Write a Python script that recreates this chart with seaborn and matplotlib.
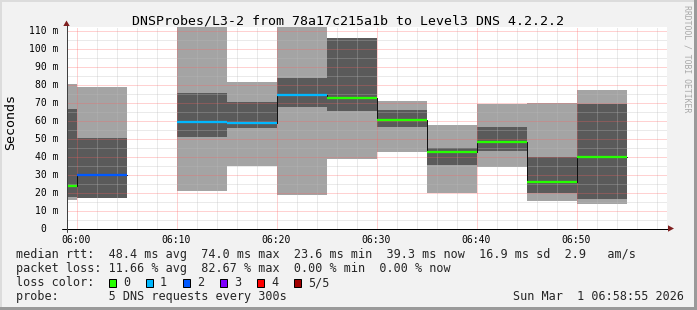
import matplotlib
matplotlib.use("Agg")
import matplotlib.pyplot as plt
import seaborn as sns
import pandas as pd
from matplotlib.lines import Line2D
from matplotlib.patches import Rectangle, Polygon
from matplotlib.ticker import FixedLocator

# ---------------- data (minutes after 06:00, milliseconds) ----------------
slot_start = [-5, 0, 10, 15, 20, 25, 30, 35, 40, 45, 50]
ping_min   = [15.6, 17.0, 20.7, 35.0, 18.4, 38.5, 42.5, 19.7, 34.2, 15.1, 13.4]
ping_max   = [80.0, 78.4, 118.0, 81.6, 118.0, 105.6, 70.9, 57.5, 69.3, 70.0, 77.1]
inner_lo   = [17.5, 17.0, 51.0, 55.7, 67.6, 65.4, 56.6, 35.2, 43.2, 19.7, 16.2]
inner_hi   = [66.5, 50.1, 75.4, 70.4, 83.8, 105.6, 66.0, 44.5, 56.6, 39.8, 69.3]
median_rtt = [23.6, 30.0, 59.0, 58.5, 74.0, 72.6, 60.3, 42.5, 48.0, 25.6, 39.5]
lost_pings = [0, 2, 1, 1, 1, 0, 0, 0, 0, 0, 0]
slot_len = 5

x_tick_minutes = [0, 10, 20, 30, 40, 50]
x_tick_labels = ["06:00", "06:10", "06:20", "06:30", "06:40", "06:50"]
x_minor_minutes = [m for m in range(2, 59, 2) if m % 10 != 0]
y_ticks = [0, 10, 20, 30, 40, 50, 60, 70, 80, 90, 100, 110]
y_tick_labels = ["0  ", "10 m", "20 m", "30 m", "40 m", "50 m", "60 m",
                 "70 m", "80 m", "90 m", "100 m", "110 m"]
y_minor = [5, 15, 25, 35, 45, 55, 65, 75, 85, 95, 105]

loss_labels = ["0", "1", "2", "3", "4", "5/5"]
loss_colors = ["#26ff00", "#00b8ff", "#0059ff", "#7e00ff", "#ff0000", "#a10000"]

title = "DNSProbes/L3-2 from 78a17c215a1b to Level3 DNS 4.2.2.2"
line_rtt = "median rtt:  48.4 ms avg  74.0 ms max  23.6 ms min  39.3 ms now  16.9 ms sd  2.9   am/s"
line_loss = "packet loss: 11.66 % avg  82.67 % max  0.00 % min  0.00 % now"
line_color = "loss color:"
line_probe = "probe:       5 DNS requests every 300s"
stamp = "Sun Mar  1 06:58:55 2026"
watermark = "RRDTOOL / TOBI OETIKER"
ylabel = "Seconds"

LIGHT = "#a4a4a4"
DARK = "#5a5a5a"

# ---------------- figure ----------------
sns.set_style("white")
plt.rcParams["font.family"] = ["DejaVu Sans Mono", "DejaVu Sans"]

W, H = 697, 310
PX = 0.72  # points per pixel at dpi 100


def fx(x):
    return x / W


def fy(y):
    return 1 - y / H


fig = plt.figure(figsize=(W / 100, H / 100), dpi=100, facecolor="#F2F2F2")

# 3D frame
fig.add_artist(Rectangle((0, 1 - 2 / H), 1, 2 / H, transform=fig.transFigure,
                         facecolor="#DCDCDC", edgecolor="none", zorder=0))
fig.add_artist(Rectangle((0, 0), 2 / W, 1, transform=fig.transFigure,
                         facecolor="#DCDCDC", edgecolor="none", zorder=0))
fig.add_artist(Rectangle((0, 0), 1, 3 / H, transform=fig.transFigure,
                         facecolor="#9A9A9A", edgecolor="none", zorder=0))
fig.add_artist(Rectangle((1 - 3 / W, 0), 3 / W, 1, transform=fig.transFigure,
                         facecolor="#9A9A9A", edgecolor="none", zorder=0))

left_px, right_px = 66.5, 666.5
bottom_px = 228.5
top_px = bottom_px - 112 * 1.8
ax = fig.add_axes([fx(left_px), fy(bottom_px), (right_px - left_px) / W,
                   (bottom_px - top_px) / H])
ax.set_facecolor("white")
ax.set_xlim(-1, 59)
ax.set_ylim(0, 112)

# smoke: outer (min..max) and inner bands
ax.bar(slot_start, [b - a for a, b in zip(ping_min, ping_max)], bottom=ping_min,
       width=slot_len, align="edge", color=LIGHT, linewidth=0, zorder=1)
ax.bar(slot_start, [b - a for a, b in zip(inner_lo, inner_hi)], bottom=inner_lo,
       width=slot_len, align="edge", color=DARK, linewidth=0, zorder=1.1)

# median step connectors (black), split at data gaps
rows = []
seg = 0
prev_end = None
for s, m in zip(slot_start, median_rtt):
    if prev_end is not None and s != prev_end:
        seg += 1
    rows.append({"t": s, "ms": m, "seg": seg})
    rows.append({"t": s + slot_len, "ms": m, "seg": seg})
    prev_end = s + slot_len
med_df = pd.DataFrame(rows)
sns.lineplot(data=med_df, x="t", y="ms", units="seg", estimator=None, sort=False,
             color="#111111", linewidth=1 * PX, ax=ax, legend=False, zorder=5)

# colored median by loss
ax.hlines(median_rtt, slot_start, [s + slot_len for s in slot_start],
          colors=[loss_colors[l] for l in lost_pings], linewidth=2.3 * PX, zorder=6)

# grid
ax.xaxis.set_major_locator(FixedLocator(x_tick_minutes))
ax.xaxis.set_minor_locator(FixedLocator(x_minor_minutes))
ax.yaxis.set_major_locator(FixedLocator(y_ticks))
ax.yaxis.set_minor_locator(FixedLocator(y_minor))
ax.set_xticklabels(x_tick_labels)
ax.set_yticklabels(y_tick_labels)
ax.set_axisbelow(False)
ax.grid(which="major", color="#FF5F5F", alpha=0.56, linestyle=(0, (1, 1)),
        linewidth=1 * PX, zorder=3)
ax.grid(which="minor", color="#BBBBBB", alpha=0.6, linestyle=(0, (1, 1)),
        linewidth=1 * PX, zorder=3)

ax.tick_params(axis="x", which="major", length=3 * PX, width=1 * PX,
               color="#FF5F5F", labelsize=7.06, pad=2.2, labelcolor="#000000")
ax.tick_params(axis="x", which="minor", length=2 * PX, width=1 * PX, color="#BBBBBB")
ax.tick_params(axis="y", which="major", length=3 * PX, width=1 * PX,
               color="#404040", labelsize=7.06, pad=3.4, labelcolor="#000000")
ax.tick_params(axis="y", which="minor", length=2 * PX, width=1 * PX, color="#BBBBBB")
ax.set_xlabel("")
ax.set_ylabel("")
for sp in ax.spines.values():
    sp.set_visible(False)

# axis lines with arrows
fig.add_artist(Line2D([fx(62.3), fx(668)], [fy(228.5), fy(228.5)],
                      transform=fig.transFigure, color="black", linewidth=1 * PX, zorder=7))
fig.add_artist(Line2D([fx(66.5), fx(66.5)], [fy(231.5), fy(25)],
                      transform=fig.transFigure, color="#404040", linewidth=1 * PX, zorder=7))
ARROW = "#7F1F1F"
fig.add_artist(Polygon([(fx(668), fy(225.3)), (fx(668), fy(231.7)), (fx(674), fy(228.5))],
                       closed=True, transform=fig.transFigure, facecolor=ARROW,
                       edgecolor="none", zorder=8))
fig.add_artist(Polygon([(fx(63.3), fy(26)), (fx(69.7), fy(26)), (fx(66.5), fy(20.5))],
                       closed=True, transform=fig.transFigure, facecolor=ARROW,
                       edgecolor="none", zorder=8))

# texts
MONO = ["DejaVu Sans Mono"]
fig.text(fx(348.5), fy(24.3), title, ha="center", va="baseline", fontsize=9.57,
         family=MONO, color="black")
fig.text(fx(10.5), fy(122), ylabel, ha="center", va="center", rotation=90,
         fontsize=9.6, family=MONO, color="black")
fig.text(fx(687), fy(59), watermark, ha="center", va="center", rotation=270,
         fontsize=5.9, family=MONO, color="#A8A8A8")

fs = 8.5
fig.text(fx(16), fy(258.3), line_rtt, ha="left", va="baseline", fontsize=fs, family=MONO)
fig.text(fx(16), fy(272.3), line_loss, ha="left", va="baseline", fontsize=fs, family=MONO)
fig.text(fx(16), fy(286.3), line_color, ha="left", va="baseline", fontsize=fs, family=MONO)
fig.text(fx(16), fy(300.2), line_probe, ha="left", va="baseline", fontsize=fs, family=MONO)
fig.text(fx(513.3), fy(300.2), stamp, ha="left", va="baseline", fontsize=fs, family=MONO)

for i, (lab, col) in enumerate(zip(loss_labels, loss_colors)):
    bx = 108 + 37 * i
    fig.add_artist(Rectangle((fx(bx + 0.5), fy(286.5)), 7 / W, 7.5 / H,
                             transform=fig.transFigure, facecolor=col,
                             edgecolor="black", linewidth=1 * PX, zorder=5))
    fig.text(fx(bx + 15), fy(286.3), lab, ha="left", va="baseline", fontsize=fs, family=MONO)

fig.savefig("out.png", dpi=100, facecolor=fig.get_facecolor())
